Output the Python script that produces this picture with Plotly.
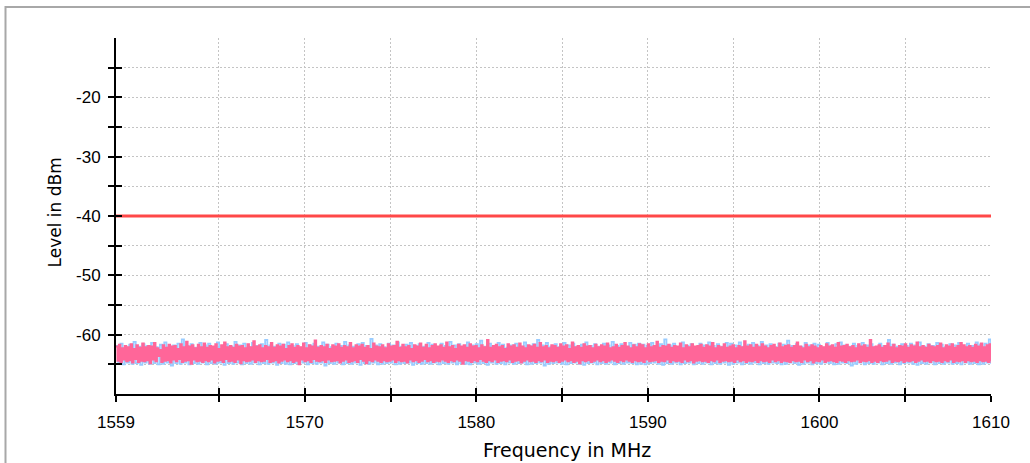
import numpy as np
import plotly.graph_objects as go

# ---- data ----
f_start, f_stop = 1559, 1610
limit_freq = [1559, 1610]
limit_level = [-40, -40]

pink_level = [
    -62.0,-64.4,-61.7,-64.6,-62.3,-64.2,-61.9,-64.5,-62.1,-64.3,-61.6,-64.7,-62.4,-64.1,-61.8,-64.6,-62.2,-64.4,-61.5,-64.5,
    -62.1,-64.3,-61.9,-64.8,-62.0,-64.2,-61.4,-64.5,-62.3,-63.6,-62.6,-64.6,-61.8,-64.4,-62.2,-64.3,-61.7,-64.7,-62.0,-64.2,
    -61.9,-64.5,-62.4,-64.1,-61.6,-64.6,-62.1,-64.4,-61.2,-64.3,-62.0,-64.9,-61.8,-64.2,-62.3,-64.5,-61.7,-64.4,-62.1,-64.6,
    -61.5,-64.3,-62.2,-64.5,-61.9,-64.2,-62.0,-64.7,-61.6,-64.4,-62.4,-64.3,-61.8,-64.6,-61.3,-64.1,-62.1,-64.5,-61.9,-64.4,
    -62.2,-64.6,-61.7,-64.2,-62.0,-64.8,-61.9,-64.3,-62.3,-64.5,-61.6,-64.4,-62.1,-64.2,-61.1,-64.6,-62.0,-64.3,-61.8,-64.5,
    -62.3,-64.4,-61.9,-64.1,-62.1,-64.6,-61.4,-64.5,-62.2,-64.3,-61.8,-64.7,-62.0,-64.4,-61.7,-64.2,-62.4,-64.5,-61.9,-64.3,
    -61.6,-64.6,-62.2,-64.4,-61.9,-65.0,-62.1,-64.2,-61.5,-64.5,-62.3,-64.3,-61.8,-64.6,-62.0,-64.1,-61.0,-64.4,-62.2,-64.5,
    -61.9,-64.3,-62.1,-64.6,-61.7,-64.2,-62.4,-64.5,-61.8,-64.4,-62.0,-64.3,-61.6,-64.7,-62.2,-64.4,-61.9,-64.2,-62.1,-64.6,
    -61.4,-64.5,-62.3,-64.3,-61.8,-64.6,-62.0,-64.1,-61.7,-64.4,-62.2,-64.8,-61.9,-64.3,-62.4,-64.5,-61.5,-64.2,-62.0,-64.4,
    -62.1,-64.6,-61.8,-64.3,-62.3,-64.5,-61.6,-64.4,-62.0,-64.2,-61.9,-64.6,-61.2,-64.3,-62.2,-64.5,-61.7,-64.4,-62.1,-64.7,
    -61.9,-64.2,-62.4,-64.5,-61.8,-64.3,-62.0,-64.6,-61.5,-64.4,-62.2,-64.1,-61.7,-64.5,-62.3,-64.3,-61.9,-64.6,-61.6,-64.4,
    -62.0,-64.5,-61.8,-64.2,-62.2,-64.4,-61.3,-64.6,-62.1,-64.3,-61.9,-64.5,-62.4,-64.2,-61.7,-64.4,-62.0,-64.9,-61.8,-64.3,
    -62.2,-64.4,-61.6,-64.6,-62.0,-64.3,-61.9,-64.5,-62.3,-64.1,-61.8,-64.4,-62.1,-64.6,-60.9,-64.3,-62.2,-64.5,-61.9,-64.2,
    -61.7,-64.6,-62.1,-64.4,-61.9,-64.3,-62.4,-64.5,-61.6,-64.2,-62.0,-64.6,-61.8,-64.4,-62.2,-64.3,-61.5,-64.7,-62.0,-64.4,
    -62.3,-64.2,-61.8,-64.5,-62.0,-64.4,-61.7,-64.6,-62.2,-64.3,-61.4,-64.5,-62.1,-64.2,-61.9,-64.6,-62.3,-64.4,-61.8,-64.5,
    -61.9,-64.3,-62.2,-64.6,-61.6,-64.4,-62.0,-64.2,-61.8,-64.5,-62.4,-64.3,-61.3,-64.6,-62.1,-64.4,-61.9,-64.8,-62.2,-64.3,
    -61.6,-64.5,-62.0,-64.3,-61.9,-64.6,-62.3,-64.4,-61.7,-64.2,-62.1,-64.5,-61.8,-64.3,-62.0,-64.6,-61.5,-64.4,-62.3,-64.2,
    -62.1,-64.4,-61.7,-64.6,-62.2,-64.3,-61.9,-64.5,-61.4,-64.2,-62.0,-64.4,-62.3,-64.6,-61.8,-64.3,-62.1,-64.5,-61.6,-64.4,
    -61.8,-64.6,-62.3,-64.2,-61.6,-64.5,-62.1,-64.4,-61.9,-64.3,-61.2,-64.6,-62.2,-64.4,-61.9,-64.5,-62.0,-64.2,-61.7,-64.6,
    -62.2,-64.3,-61.9,-64.5,-62.0,-64.4,-61.5,-64.6,-62.3,-64.2,-61.8,-64.5,-62.1,-64.3,-61.6,-64.7,-62.0,-64.4,-61.9,-64.3,
    -61.7,-64.5,-62.2,-64.4,-61.8,-64.6,-62.0,-64.3,-61.4,-64.5,-62.3,-64.2,-61.9,-64.6,-62.1,-64.4,-61.6,-64.3,-62.2,-64.5,
    -62.0,-64.4,-61.8,-64.6,-62.3,-64.2,-61.9,-64.5,-62.1,-64.3,-61.1,-64.6,-62.0,-64.4,-61.8,-64.5,-62.2,-64.3,-61.7,-64.6,
    -62.1,-64.3,-61.6,-64.5,-62.0,-64.4,-62.3,-64.6,-61.9,-64.2,-61.7,-64.5,-62.2,-64.3,-61.5,-64.6,-62.1,-64.4,-61.9,-64.5,
    -61.8,-64.6,-62.2,-64.3,-61.9,-64.5,-61.3,-64.4,-62.0,-64.6,-62.3,-64.2,-61.7,-64.5,-62.1,-64.3,-61.8,-64.7,-62.0,-64.4,
    -62.3,-64.5,-61.9,-64.2,-62.1,-64.6,-61.6,-64.4,-62.0,-64.3,-61.8,-64.5,-62.2,-64.6,-61.4,-64.3,-62.0,-64.4,-61.9,-64.6,
    -61.7,-64.3,-62.1,-64.5,-61.9,-64.4,-62.3,-64.2,-61.6,-64.6,-62.0,-64.4,-61.8,-64.5,-62.2,-64.3,-60.9,-64.6,-62.1,-64.4,
    -62.0,-64.6,-61.8,-64.3,-62.2,-64.5,-61.9,-64.4,-61.5,-64.2,-62.1,-64.6,-61.7,-64.4,-62.3,-64.5,-61.9,-64.3,-62.0,-64.6,
    -61.6,-64.4,-62.2,-64.5,-61.8,-64.3,-62.0,-64.6,-61.3,-64.4,-62.1,-64.2,-61.9,-64.5,-62.2,-64.4,-61.7,-64.6,-62.0,-64.3,
    -62.1,-64.5,-61.9,-64.4,-61.5,-64.6,-62.3,-64.3,-61.8,-64.5,-62.0,-64.2,-61.6,-64.6,-62.2,-64.4,-61.9,-64.5,-61.4,-64.3,
    -61.8,-64.6,-62.1,-64.3,-61.9,-64.5,-62.2,-64.4,-61.7,-64.6,-62.0,-64.3,-61.5,-64.5,-62.1,-64.4,-61.8,-64.6,-61.6,-64.5,
]

blue_level = [
    -61.9,-64.8,-61.5,-65.0,-62.2,-64.7,-61.7,-64.9,-61.2,-64.8,-62.0,-65.1,-61.6,-64.7,-61.9,-64.9,-61.4,-64.8,-62.1,-65.0,
    -61.7,-64.9,-61.3,-64.7,-62.0,-65.2,-61.8,-64.8,-61.5,-64.9,-60.8,-64.7,-61.9,-65.0,-61.6,-64.8,-62.2,-64.9,-61.4,-64.7,
    -61.8,-65.0,-61.5,-64.8,-62.1,-64.9,-61.3,-64.7,-61.9,-65.1,-61.6,-64.8,-62.0,-64.9,-61.2,-64.7,-61.8,-65.0,-61.5,-64.8,
    -62.1,-64.9,-61.4,-64.7,-61.9,-65.0,-61.6,-64.8,-60.9,-64.9,-61.8,-64.7,-62.0,-65.1,-61.5,-64.8,-61.7,-64.9,-61.3,-65.0,
    -61.9,-64.8,-61.6,-64.9,-62.2,-64.7,-61.4,-65.0,-61.8,-64.8,-61.5,-64.9,-62.0,-64.7,-61.3,-65.2,-61.7,-64.8,-62.1,-64.9,
    -61.5,-64.7,-61.9,-65.0,-61.2,-64.8,-61.8,-64.9,-62.0,-64.7,-61.6,-65.1,-61.4,-64.8,-61.9,-64.9,-60.7,-64.7,-61.8,-65.0,
    -61.6,-64.9,-62.1,-64.8,-61.5,-64.7,-61.8,-65.0,-61.3,-64.9,-62.0,-64.8,-61.7,-64.7,-61.4,-65.1,-61.9,-64.8,-61.6,-64.9,
    -62.0,-64.8,-61.4,-64.9,-61.7,-64.7,-62.2,-65.0,-61.5,-64.8,-61.9,-64.9,-61.2,-64.7,-61.8,-65.0,-61.6,-64.8,-62.1,-64.9,
    -61.3,-65.0,-61.8,-64.7,-61.6,-64.9,-61.0,-64.8,-62.0,-65.1,-61.5,-64.7,-61.9,-64.9,-61.4,-64.8,-61.7,-65.0,-62.2,-64.7,
    -61.8,-64.9,-61.5,-64.8,-62.0,-64.7,-61.3,-65.0,-61.9,-64.9,-61.6,-64.8,-60.9,-64.7,-61.8,-65.2,-61.4,-64.9,-62.0,-64.8,
    -61.6,-64.7,-62.1,-64.9,-61.4,-65.0,-61.8,-64.8,-61.5,-64.7,-62.0,-64.9,-61.7,-65.1,-61.3,-64.8,-61.9,-64.7,-61.6,-65.0,
    -62.0,-64.8,-61.5,-64.9,-61.8,-64.7,-61.2,-65.0,-61.9,-64.8,-61.6,-64.9,-62.1,-64.7,-61.4,-64.8,-61.7,-65.0,-61.5,-64.9,
    -61.7,-65.0,-61.9,-64.8,-61.4,-64.7,-62.0,-64.9,-61.6,-65.1,-60.8,-64.8,-61.8,-64.9,-61.5,-64.7,-62.1,-65.0,-61.3,-64.8,
    -61.9,-64.7,-61.6,-65.0,-62.2,-64.8,-61.5,-64.9,-61.8,-64.7,-61.3,-65.0,-61.9,-64.8,-61.6,-64.9,-62.0,-64.7,-61.4,-65.1,
    -61.5,-64.9,-61.8,-64.7,-61.3,-65.0,-62.0,-64.8,-61.7,-64.9,-61.4,-64.7,-61.9,-65.0,-61.2,-64.8,-61.8,-64.9,-61.6,-64.7,
    -62.1,-64.8,-61.5,-65.0,-61.7,-64.9,-61.0,-64.7,-61.9,-64.8,-61.6,-65.1,-62.0,-64.9,-61.4,-64.7,-61.8,-65.0,-61.5,-64.8,
    -61.7,-64.9,-62.2,-64.7,-61.4,-64.8,-61.9,-65.0,-61.6,-64.9,-61.3,-64.7,-61.8,-64.8,-62.0,-65.2,-61.5,-64.9,-61.9,-64.7,
    -61.4,-65.0,-61.8,-64.8,-61.6,-64.9,-62.1,-64.7,-61.5,-65.0,-61.9,-64.8,-60.9,-64.9,-61.7,-64.7,-62.0,-65.0,-61.6,-64.8,
    -61.9,-64.7,-61.5,-64.9,-61.8,-65.1,-61.3,-64.8,-62.0,-64.9,-61.6,-64.7,-61.9,-65.0,-61.4,-64.8,-61.7,-64.9,-62.1,-64.7,
    -61.6,-64.9,-61.8,-64.8,-61.4,-65.0,-62.0,-64.7,-61.5,-64.9,-61.9,-64.8,-61.3,-65.0,-61.7,-64.9,-61.5,-64.7,-60.8,-64.9,
]

x_tickvals = [1559, 1565, 1570, 1575, 1580, 1585, 1590, 1595, 1600, 1605, 1610]
x_ticktext = ["1559", "", "1570", "", "1580", "", "1590", "", "1600", "", "1610"]
y_tickvals = [-65, -60, -55, -50, -45, -40, -35, -30, -25, -20, -15]
y_ticktext = ["", "-60", "", "-50", "", "-40", "", "-30", "", "-20", ""]

# ---- figure ----
blue_freq = np.linspace(f_start, f_stop, len(blue_level))
pink_freq = np.linspace(f_start, f_stop, len(pink_level))

fig = go.Figure()
fig.add_trace(go.Scatter(x=blue_freq, y=blue_level, mode="lines",
                         line=dict(color="#99ccff", width=1.8, shape="hv"),
                         showlegend=False, hoverinfo="skip"))
fig.add_trace(go.Scatter(x=pink_freq, y=pink_level, mode="lines",
                         line=dict(color="#ff6699", width=2, shape="hv"),
                         showlegend=False, hoverinfo="skip"))
fig.add_trace(go.Scatter(x=limit_freq, y=limit_level, mode="lines", xaxis="x2", yaxis="y2",
                         line=dict(color="#ff4848", width=3), showlegend=False, hoverinfo="skip"))

L, R, T, B = 116, 39, 38, 69
W, H = 1030, 463
pw, ph = W - L - R, H - T - B

tickfont = dict(family="Liberation Sans, Arial, sans-serif", size=17, color="black")
common_x = dict(range=[f_start, f_stop], tickmode="array", tickvals=x_tickvals, fixedrange=True)
common_y = dict(range=[-70, -10], tickmode="array", tickvals=y_tickvals, fixedrange=True)
grid = dict(showgrid=True, gridcolor="#c4c4c4", griddash="2px,2px", gridwidth=1)

fig.update_layout(
    width=W, height=H,
    margin=dict(l=L, r=R, t=T, b=B),
    paper_bgcolor="white", plot_bgcolor="white",
    xaxis=dict(**common_x, **grid, ticktext=x_ticktext, ticks="outside", ticklen=6, tickwidth=2,
               tickcolor="black", showline=True, linecolor="black", linewidth=2,
               zeroline=False, tickfont=tickfont, ticklabelstandoff=6),
    yaxis=dict(**common_y, **grid, ticktext=y_ticktext, ticks="outside", ticklen=6, tickwidth=2,
               tickcolor="black", showline=True, linecolor="black", linewidth=2,
               zeroline=False, tickfont=tickfont, ticklabelstandoff=4),
    xaxis2=dict(**common_x, overlaying="x", anchor="y", side="bottom", ticks="inside",
                ticklen=6, tickwidth=2, tickcolor="black", showticklabels=False,
                showgrid=False, showline=False, zeroline=False),
    yaxis2=dict(**common_y, overlaying="y", anchor="x", side="left", ticks="inside",
                ticklen=6, tickwidth=2, tickcolor="black", showticklabels=False,
                showgrid=False, showline=False, zeroline=False),
)

def px_x(p):
    return (p - L) / pw

def px_y(p):
    return (H - B - p) / ph

fig.add_annotation(text="Frequency in MHz", xref="paper", yref="paper",
                   x=px_x(567), y=px_y(450), showarrow=False, xanchor="center", yanchor="middle",
                   font=dict(family="DejaVu Sans, sans-serif", size=19, color="black"))
fig.add_annotation(text="Level in dBm", xref="paper", yref="paper",
                   x=px_x(54.5), y=px_y(213), showarrow=False, xanchor="center", yanchor="middle",
                   textangle=-90,
                   font=dict(family="DejaVu Sans, sans-serif", size=17, color="black"))

# outer frame (top and left edges)
fig.add_shape(type="line", xref="paper", yref="paper",
              x0=px_x(5), x1=px_x(W), y0=px_y(7), y1=px_y(7),
              line=dict(color="#a8a8a8", width=2))
fig.add_shape(type="line", xref="paper", yref="paper",
              x0=px_x(5.5), x1=px_x(5.5), y0=px_y(6), y1=px_y(H),
              line=dict(color="#a8a8a8", width=2))

fig.write_html("out.html")
